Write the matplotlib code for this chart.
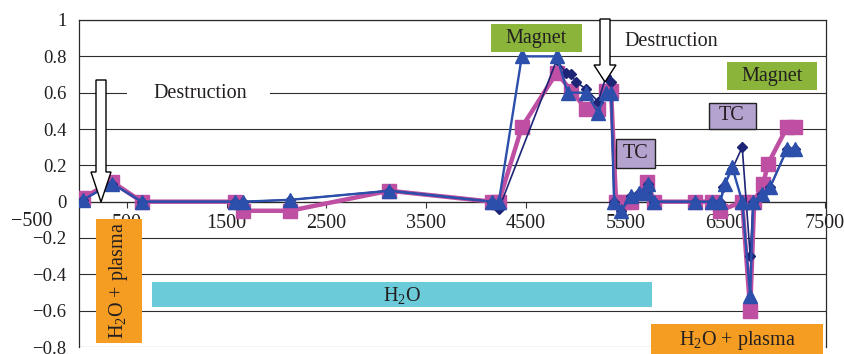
import matplotlib
matplotlib.use("Agg")
import matplotlib.pyplot as plt
from matplotlib.patches import Rectangle, Polygon

plt.rcParams['font.family'] = ['Liberation Serif', 'DejaVu Serif']
plt.rcParams['mathtext.fontset'] = 'custom'
plt.rcParams['mathtext.rm'] = 'Liberation Serif'
plt.rcParams['mathtext.it'] = 'Liberation Serif:italic'

# ---- data ----
pink_x = [60, 350, 650, 1585, 1665, 2135, 3130, 4160, 4230, 4460, 4810, 4955, 5105, 5225,
          5305, 5355, 5405, 5480, 5555, 5720, 5785, 6200, 6370, 6450, 6670, 6750, 6790,
          6880, 6930, 7120, 7200]
pink_y = [0.02, 0.11, 0.0, 0.0, -0.05, -0.05, 0.06, 0.0, 0.0, 0.41, 0.71, 0.61, 0.51, 0.51,
          0.61, 0.61, 0.0, 0.0, 0.0, 0.11, 0.0, 0.0, 0.0, -0.05, 0.0, -0.6, 0.0,
          0.1, 0.21, 0.41, 0.41]

navy_x = [60, 350, 650, 1585, 1665, 2135, 3130, 4160, 4230, 4810, 4900, 4955, 5000, 5105,
          5225, 5305, 5355, 5385, 5455, 5555, 5635, 5700, 5730, 5785, 6200, 6370, 6450,
          6480, 6570, 6670, 6750, 6780, 6870, 6950, 7120, 7200]
navy_y = [0.01, 0.1, 0.0, 0.0, 0.0, 0.01, 0.06, 0.0, -0.04, 0.78, 0.71, 0.70, 0.66, 0.62,
          0.55, 0.69, 0.66, 0.0, -0.05, 0.03, 0.045, 0.05, 0.1, 0.0, 0.0, 0.0, 0.0,
          0.08, 0.18, 0.30, -0.30, 0.0, 0.04, 0.08, 0.29, 0.29]

blue_x = [60, 350, 650, 1585, 1665, 2135, 3130, 4160, 4230, 4460, 4810, 4920, 5105, 5225,
          5305, 5355, 5385, 5455, 5555, 5635, 5700, 5730, 5785, 6200, 6370, 6450, 6500,
          6570, 6670, 6750, 6780, 6870, 6950, 7120, 7200]
blue_y = [0.01, 0.1, 0.0, 0.0, 0.0, 0.01, 0.06, 0.0, 0.0, 0.8, 0.8, 0.6, 0.6, 0.49,
          0.6, 0.6, 0.0, -0.05, 0.03, 0.045, 0.05, 0.1, 0.0, 0.0, 0.0, 0.0, 0.1,
          0.19, 0.0, -0.52, 0.0, 0.04, 0.08, 0.29, 0.29]

xticks = [500, 1500, 2500, 3500, 4500, 5500, 6500, 7500]
yticks = [-0.8, -0.6, -0.4, -0.2, 0, 0.2, 0.4, 0.6, 0.8, 1]
ylabels = ['\u22120.8', '\u22120.6', '\u22120.4', '\u22120.2', '0', '0.2', '0.4', '0.6', '0.8', '1']

W, H = 845, 354
fig = plt.figure(figsize=(W / 100, H / 100), dpi=100)
L, R, T, B = 79, 826, 20, 347
ax = fig.add_axes([L / W, (H - B) / H, (R - L) / W, (B - T) / H])
ax.set_xlim(20, 7510)
ax.set_ylim(-0.8, 1.0)

def px(x, y):
    return ((x - L) / (R - L), (B - y) / (B - T))

txtc = '#231f20'
ax.set_yticks(yticks)
ax.set_yticklabels(ylabels)
ax.set_xticks(xticks)
ax.set_xticklabels([str(v) for v in xticks])
ax.tick_params(axis='y', length=0, pad=9, labelsize=13.5, labelcolor=txtc)
ax.tick_params(axis='x', length=4, width=0.8, direction='out', pad=5, labelsize=14.5,
               labelcolor=txtc, color='#333333')
ax.spines['bottom'].set_position(('data', 0))
for s in ['left', 'right', 'top', 'bottom']:
    ax.spines[s].set_color('#2a2a2a')
    ax.spines[s].set_linewidth(0.9)
ax.set_axisbelow(True)
ax.grid(axis='y', color='#2e2e2e', linewidth=0.8)
p5 = px(32, 222)
ax.text(p5[0], p5[1], '\u2212500', transform=ax.transAxes, ha='center', va='center',
        fontsize=14.5, color=txtc, clip_on=False)

pink = '#be4fa2'
blue = '#2c4fab'
navy = '#1e2475'
ax.plot(pink_x, pink_y, color=pink, lw=3.2, marker='s', ms=10.5, zorder=3)
ax.plot(navy_x, navy_y, color=navy, lw=1.2, marker='D', ms=5.5, zorder=3.1)
ax.plot(blue_x, blue_y, color=blue, lw=1.7, marker='^', ms=10, zorder=3.2)

def box(x0, y0, x1, y1, fc, ec='none', lw=0):
    a = px(x0, y1)
    b = px(x1, y0)
    ax.add_patch(Rectangle(a, b[0] - a[0], b[1] - a[1], transform=ax.transAxes,
                           facecolor=fc, edgecolor=ec, linewidth=lw, clip_on=False, zorder=5))

def label(x, y, s, **kw):
    p = px(x, y)
    ax.text(p[0], p[1], s, transform=ax.transAxes, ha='center', va='center',
            fontsize=14.5, color=txtc, clip_on=False, zorder=6, **kw)

def arrow(cx, top, head, tip, sw, hw):
    pts = [(cx - sw, top), (cx + sw, top), (cx + sw, head), (cx + hw, head), (cx, tip),
           (cx - hw, head), (cx - sw, head)]
    ax.add_patch(Polygon([px(*p) for p in pts], closed=True, transform=ax.transAxes,
                         facecolor='white', edgecolor='black', linewidth=1.0,
                         clip_on=False, zorder=5.5))

# Destruction labels (white background cut in gridline)
box(127, 86, 270, 102, 'white')
label(200, 94, 'Destruction')
label(671, 41, 'Destruction')

arrow(101, 80, 172, 202, 5, 10)
arrow(605, 19, 65, 82, 5, 11)

# Magnet boxes
box(491, 24, 582, 52, '#8ab43a')
label(536, 39, 'Magnet')
box(727, 62, 817, 90, '#8ab43a')
label(772, 76, 'Magnet')

# TC boxes
box(616, 139, 655, 168, '#b4a2cf', ec='#222222', lw=1.0)
label(636, 154, 'TC')
box(709, 103, 756, 129, '#b4a2cf', ec='#222222', lw=1.0)
label(732, 116, 'TC')

# H2O box
box(152, 282, 652, 307, '#6ccbd9')
label(402, 295, r'H$_{2}$O')

# H2O + plasma boxes
box(96, 219, 142, 343, '#f49d22')
label(119, 281, r'H$_{2}$O + plasma', rotation=90)
box(651, 324, 823, 354, '#f49d22')
label(737, 340, r'H$_{2}$O + plasma')

fig.savefig('out.png', dpi=100)
